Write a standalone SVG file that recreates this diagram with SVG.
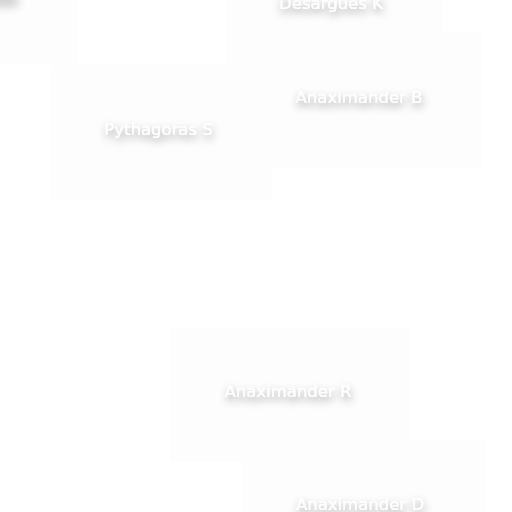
<svg xmlns="http://www.w3.org/2000/svg" width="512" height="512" viewBox="0 0 512 512">
<defs>
<filter id="ts" x="-30%" y="-100%" width="160%" height="300%">
<feGaussianBlur in="SourceAlpha" stdDeviation="4.5"/>
<feOffset dx="1" dy="4" result="b"/>
<feFlood flood-color="#000" flood-opacity="0.42"/>
<feComposite in2="b" operator="in" result="s"/>
<feMerge><feMergeNode in="s"/><feMergeNode in="SourceGraphic"/></feMerge>
</filter>
<filter id="blob" x="-100%" y="-100%" width="300%" height="300%">
<feGaussianBlur stdDeviation="5"/>
</filter>
</defs>
<style>
.box{fill:#fdfdfd;stroke:none}
.lbl{font-family:"DejaVu Sans",Verdana,sans-serif;font-size:16.5px;fill:#ffffff;text-anchor:middle;filter:url(#ts)}
</style>
<rect width="512" height="512" fill="#ffffff"/>
<g id="connectors"></g>
<g id="node-offscreen">
<rect class="box" x="-143" y="-70" width="220" height="135"/>
<rect x="-22" y="-6" width="40" height="13" fill="#000" opacity="0.18" filter="url(#blob)"/>
</g>
<g id="node-pythagoras-s">
<rect class="box" x="51" y="65" width="221" height="135"/>
<text class="lbl" x="158.5" y="135">Pythagoras S</text>
</g>
<g id="node-desargues-k">
<rect class="box" x="227" y="-62" width="216" height="135"/>
<text class="lbl" x="331" y="9">Desargues K</text>
</g>
<g id="node-anaximander-b">
<rect class="box" x="243" y="32" width="239" height="135"/>
<text class="lbl" x="359" y="103">Anaximander B</text>
</g>
<g id="node-anaximander-r">
<rect class="box" x="170" y="327" width="240" height="135"/>
<text class="lbl" x="288" y="397">Anaximander R</text>
</g>
<g id="node-anaximander-d">
<rect class="box" x="243" y="440" width="242" height="135"/>
<text class="lbl" x="360" y="510">Anaximander D</text>
</g>
</svg>
